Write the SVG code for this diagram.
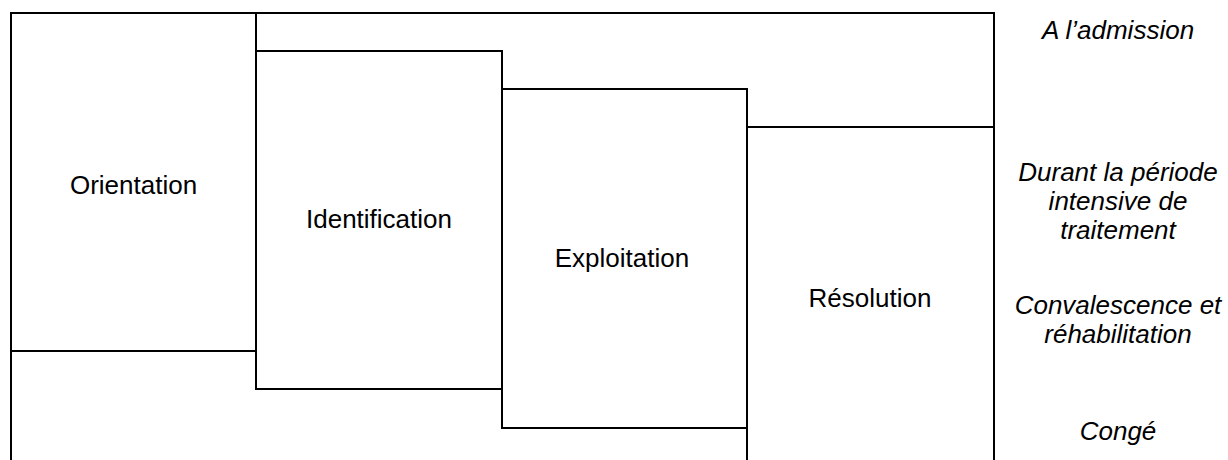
<svg xmlns="http://www.w3.org/2000/svg" width="1228" height="460" viewBox="0 0 1228 460">
<style>
.ln{fill:none;stroke:#000;stroke-width:2;stroke-linecap:square}
.lbl{font-family:"Liberation Sans",Arial,sans-serif;font-size:26px;fill:#000;text-anchor:middle}
.side{font-family:"Liberation Sans",Arial,sans-serif;font-size:26px;font-style:italic;fill:#000;text-anchor:middle}
</style>
<rect width="1228" height="460" fill="#fff"/>
<g id="frame">
<path class="ln" d="M11,461 V13 H994 V461"/>
</g>
<g id="orientation">
<path class="ln" d="M11,351 H256 V13"/>
<text class="lbl" x="133.5" y="194">Orientation</text>
</g>
<g id="identification">
<path class="ln" d="M256,389 V51 H502 V389 Z"/>
<text class="lbl" x="379" y="228">Identification</text>
</g>
<g id="exploitation">
<path class="ln" d="M502,428 V89 H747 V428 Z"/>
<text class="lbl" x="622" y="267">Exploitation</text>
</g>
<g id="resolution">
<path class="ln" d="M747,461 V127 H994"/>
<text class="lbl" x="870" y="307">Résolution</text>
</g>
<g id="phases">
<text class="side" x="1118" y="39">A l’admission</text>
<text class="side" x="1118" y="181">Durant la période</text>
<text class="side" x="1118" y="210">intensive de</text>
<text class="side" x="1118" y="239">traitement</text>
<text class="side" x="1118" y="314">Convalescence et</text>
<text class="side" x="1118" y="343">réhabilitation</text>
<text class="side" x="1118" y="440">Congé</text>
</g>
</svg>
